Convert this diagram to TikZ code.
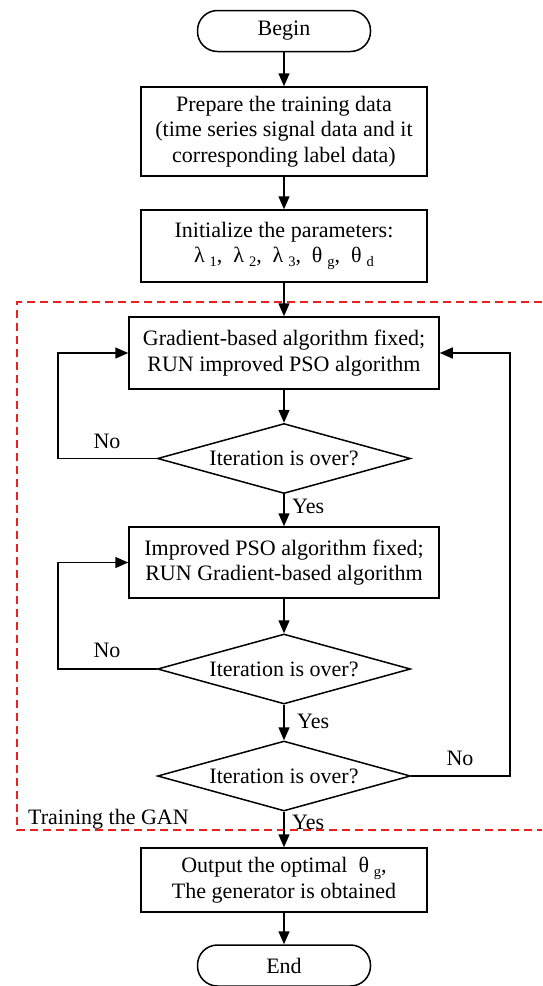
\documentclass[tikz,border=0pt]{standalone}
\usepackage{fontspec}
\setmainfont{Liberation Serif}
\usetikzlibrary{arrows.meta,shapes.geometric}
\definecolor{dashred}{RGB}{232,32,32}
\newcommand\sbs[1]{\hspace{0.22em}\raisebox{-0.4ex}{\fontsize{14.5}{14.5}\selectfont #1}}
\begin{document}
\begin{tikzpicture}[x=1pt,y=-1pt,
  font=\fontsize{22}{25.5}\selectfont,
  base/.style={draw, line width=1.5pt, align=center, inner sep=0pt},
  procbox/.style={base, rectangle},
  term/.style={base, rounded corners=20pt, minimum width=173pt, minimum height=41pt},
  decision/.style={base, diamond, aspect=3.6, minimum width=253pt, minimum height=70pt},
  arr/.style={line width=1.5pt, -{Triangle[length=13pt,width=11pt]}},
  lbl/.style={inner sep=0pt},
  group/.style={draw=dashred, line width=1.3pt, dash pattern=on 8pt off 5pt}]
\useasboundingbox (0,0) rectangle (542,986);

\draw[group] (542,302) -- (17,302) -- (17,830) -- (542,830);

\node[term] (bgn) at (284,31) {Begin};
\node[procbox, minimum width=286pt, minimum height=89pt] (prep) at (284,131.5)
  {Prepare the training data\\(time series signal data and it\\corresponding label data)};
\node[procbox, minimum width=286pt, minimum height=72pt] (init) at (284,246)
  {Initialize the parameters:\\λ\sbs{1},\ \ λ\sbs{2},\ \ λ\sbs{3},\ \ θ\sbs{g},\ \ θ\sbs{d}};
\node[procbox, minimum width=310pt, minimum height=72pt] (grad) at (284,353)
  {Gradient-based algorithm fixed;\\RUN improved PSO algorithm};
\node[decision] (d1) at (284,458.5) {Iteration is over?};
\node[procbox, minimum width=310pt, minimum height=71pt] (impr) at (284,562.5)
  {Improved PSO algorithm fixed;\\RUN Gradient-based algorithm};
\node[decision] (d2) at (284,669) {Iteration is over?};
\node[decision] (d3) at (284,776) {Iteration is over?};
\node[procbox, minimum width=286pt, minimum height=64pt] (out) at (284,880)
  {Output the optimal\ \ θ\sbs{g},\\The generator is obtained};
\node[term] (fin) at (284,965.5) {End};

\node[lbl, anchor=base] (no1) at (107,448) {No};
\node[lbl, anchor=base west] (yes1) at (292,513) {Yes};
\node[lbl, anchor=base] (no2) at (107,657) {No};
\node[lbl, anchor=base west] (yes2) at (297,728) {Yes};
\node[lbl, anchor=base] (no3) at (460,765) {No};
\node[lbl, anchor=base west] (yes3) at (292,829) {Yes};
\node[lbl, anchor=base west] (gan) at (28,824) {Training the GAN};

\coordinate (lx) at (58,0);
\coordinate (rx) at (510,0);

\draw[arr] (bgn) -- (prep);
\draw[arr] (prep) -- (init);
\draw[arr] (init) -- (grad);
\draw[arr] (grad) -- (d1);
\draw[arr] (d1) -- (impr);
\draw[arr] (impr) -- (d2);
\draw[arr] (d2) -- (d3);
\draw[arr] (d3) -- (out);
\draw[arr] (out) -- (fin);
\draw[arr] (d1.west) -- (d1.west -| lx) |- (grad.west);
\draw[arr] (d2.west) -- (d2.west -| lx) |- (impr.west);
\draw[arr] (d3.east) -- (d3.east -| rx) |- (grad.east);
\end{tikzpicture}
\end{document}
